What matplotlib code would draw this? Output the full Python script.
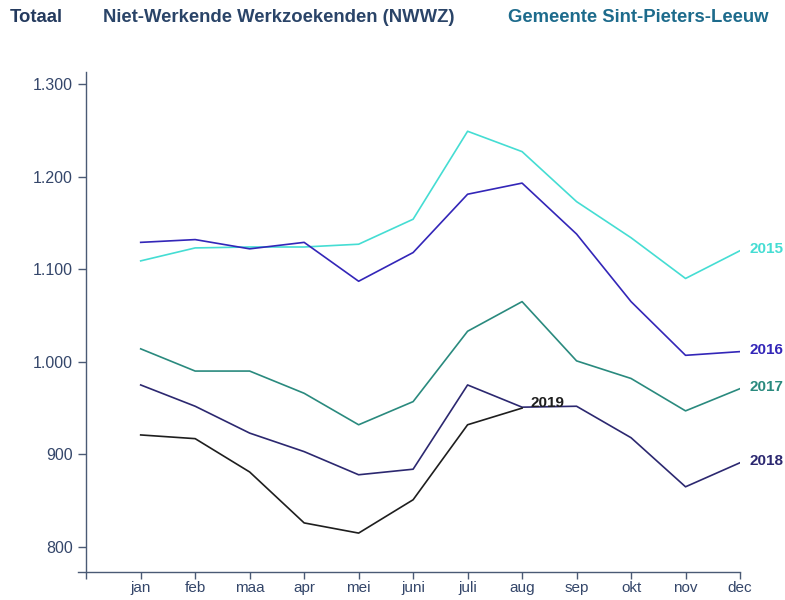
import matplotlib.pyplot as plt
from matplotlib.ticker import FuncFormatter

plt.rcParams['font.family'] = ['Liberation Sans', 'DejaVu Sans']

months = ['jan', 'feb', 'maa', 'apr', 'mei', 'juni', 'juli', 'aug', 'sep', 'okt', 'nov', 'dec']

nwwz_2015 = [1109, 1123, 1124, 1124, 1127, 1154, 1249, 1227, 1173, 1134, 1090, 1120]
nwwz_2016 = [1129, 1132, 1122, 1129, 1087, 1118, 1181, 1193, 1138, 1065, 1007, 1011]
nwwz_2017 = [1014, 990, 990, 966, 932, 957, 1033, 1065, 1001, 982, 947, 971]
nwwz_2018 = [975, 952, 923, 903, 878, 884, 975, 951, 952, 918, 865, 891]
nwwz_2019 = [921, 917, 881, 826, 815, 851, 932, 950]

series = [
    ('2015', nwwz_2015, '#45ddd3'),
    ('2016', nwwz_2016, '#3326b8'),
    ('2017', nwwz_2017, '#2a8a7e'),
    ('2018', nwwz_2018, '#2c2870'),
    ('2019', nwwz_2019, '#1e1e1e'),
]

fig = plt.figure(figsize=(7.85, 6.0), dpi=100)
ax = fig.add_axes([0.0994, 0.0467, 0.8433, 0.8333])

for year, vals, col in series:
    x = list(range(1, len(vals) + 1))
    ax.plot(x, vals, color=col, linewidth=1.2)
    if year == '2019':
        ax.text(x[-1] + 0.15, vals[-1] + 5, year, color=col, fontsize=11,
                fontweight='bold', ha='left', va='center')
    else:
        ax.text(12.18, vals[-1] + 2, year, color=col, fontsize=11,
                fontweight='bold', ha='left', va='center', clip_on=False)

ax.set_xlim(-0.15, 12)
ax.set_ylim(773, 1313)
ax.spines['left'].set_position(('data', 0))
ax.spines['top'].set_visible(False)
ax.spines['right'].set_visible(False)
for s in ['left', 'bottom']:
    ax.spines[s].set_color('#4a5a75')
    ax.spines[s].set_linewidth(1.0)

ax.set_xticks(range(0, 13))
ax.set_xticklabels([''] + months)
ax.set_yticks([800, 900, 1000, 1100, 1200, 1300])
ax.yaxis.set_major_formatter(FuncFormatter(lambda v, p: f'{int(v):,}'.replace(',', '.')))
ax.tick_params(axis='both', colors='#4a5a75', labelcolor='#34466a', labelsize=11.5,
               length=6, width=1.0)
ax.tick_params(axis='x', length=5, pad=1.5, labelsize=11)
ax.tick_params(axis='y', pad=3.5)

fig.text(0.013, 0.970, 'Totaal', color='#243a5e', fontsize=13.3, fontweight='bold', va='center')
fig.text(0.131, 0.970, 'Niet-Werkende Werkzoekenden (NWWZ)', color='#2a4468',
         fontsize=13.3, fontweight='bold', va='center')
fig.text(0.647, 0.970, 'Gemeente Sint-Pieters-Leeuw', color='#1d6b8c',
         fontsize=13.3, fontweight='bold', va='center')

fig.savefig('out.png', dpi=100)
